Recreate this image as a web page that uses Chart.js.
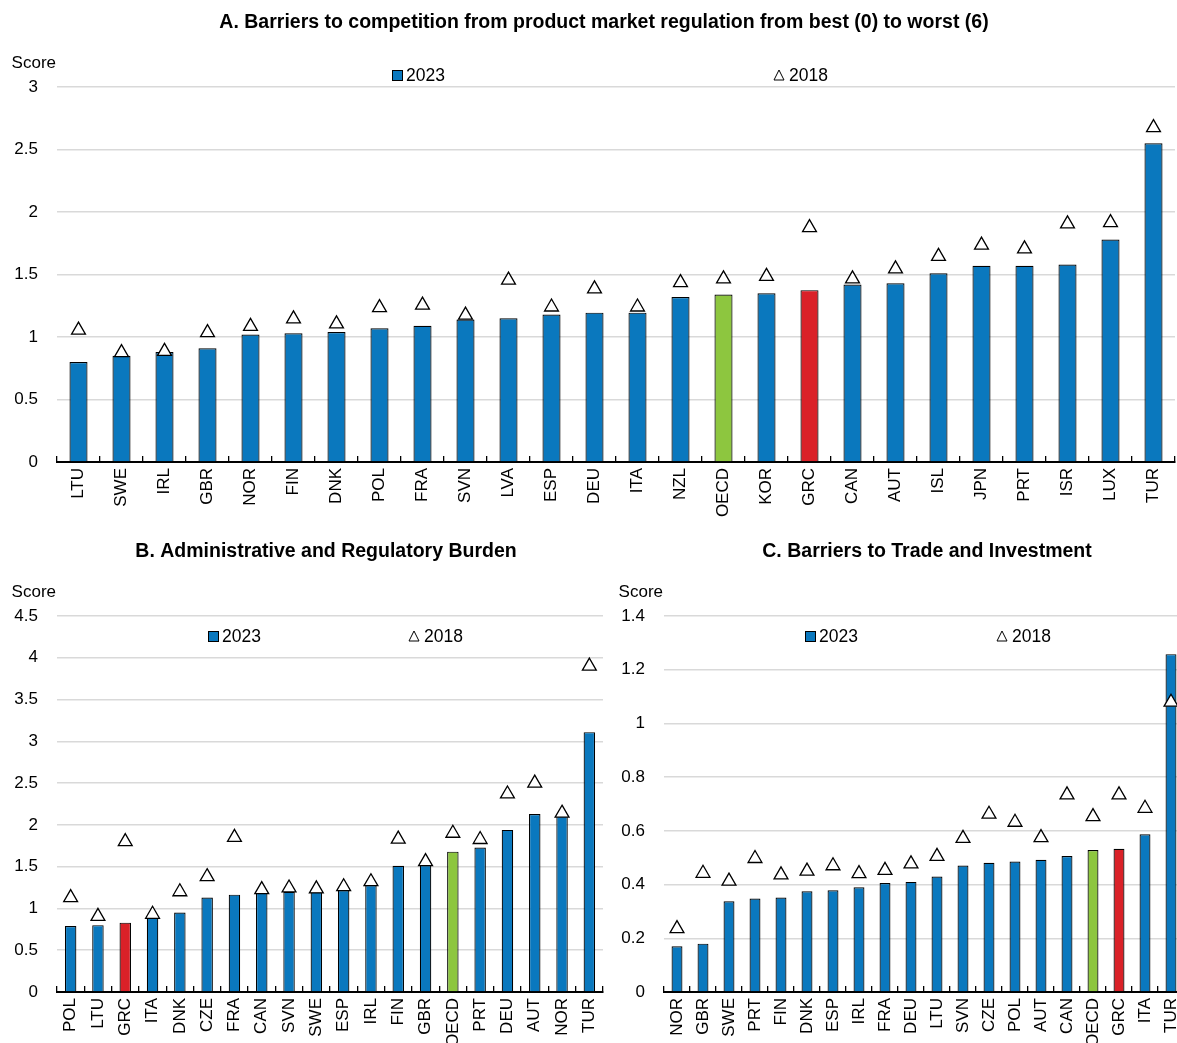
<!DOCTYPE html>
<html>
<head>
<meta charset="utf-8">
<script src="https://cdn.jsdelivr.net/npm/chart.js@4.4.1/dist/chart.umd.min.js"></script>
<style>
  html, body { margin: 0; padding: 0; background: #fff; overflow: hidden; width: 1177px; height: 1043px; }
  canvas { position: absolute; }
  #chartA { left: 0; top: 0; }
  #chartB { left: 0; top: 530px; }
  #chartC { left: 610px; top: 530px; }
</style>
</head>
<body>
<canvas id="chartA" width="1177" height="525"></canvas>
<canvas id="chartB" width="610" height="530"></canvas>
<canvas id="chartC" width="580" height="530"></canvas>
<script>
/* ── Data ───────────────────────────────────────────── */
const catsA = ['LTU','SWE','IRL','GBR','NOR','FIN','DNK','POL','FRA','SVN','LVA','ESP','DEU','ITA','NZL','OECD','KOR','GRC','CAN','AUT','ISL','JPN','PRT','ISR','LUX','TUR'];
const a2023 = [0.80,0.85,0.88,0.91,1.02,1.03,1.04,1.07,1.09,1.14,1.15,1.18,1.195,1.195,1.32,1.34,1.35,1.375,1.42,1.43,1.51,1.57,1.57,1.58,1.78,2.55];
const a2018 = [1.055,0.875,0.885,1.035,1.085,1.145,1.105,1.235,1.255,1.175,1.455,1.24,1.385,1.24,1.435,1.465,1.485,1.875,1.465,1.545,1.645,1.735,1.705,1.905,1.915,2.675];

const catsB = ['POL','LTU','GRC','ITA','DNK','CZE','FRA','CAN','SVN','SWE','ESP','IRL','FIN','GBR','OECD','PRT','DEU','AUT','NOR','TUR'];
const b2023 = [0.79,0.80,0.83,0.89,0.95,1.13,1.165,1.19,1.20,1.20,1.22,1.28,1.51,1.52,1.68,1.73,1.94,2.13,2.11,3.11];
const b2018 = [1.13,0.905,1.80,0.93,1.20,1.38,1.85,1.225,1.245,1.235,1.26,1.32,1.83,1.56,1.90,1.825,2.37,2.50,2.14,3.90];

const catsC = ['NOR','GBR','SWE','PRT','FIN','DNK','ESP','IRL','FRA','DEU','LTU','SVN','CZE','POL','AUT','CAN','OECD','GRC','ITA','TUR'];
const c2023 = [0.17,0.18,0.338,0.348,0.352,0.375,0.379,0.39,0.406,0.41,0.43,0.471,0.481,0.486,0.492,0.506,0.529,0.533,0.587,1.258];
const c2018 = [0.236,0.442,0.413,0.497,0.436,0.45,0.47,0.441,0.453,0.477,0.505,0.572,0.662,0.632,0.575,0.734,0.653,0.734,0.684,1.079];

const titleA = 'A. Barriers to competition from product market regulation from best (0) to worst (6)';
const titleB = 'B. Administrative and Regulatory Burden';
const titleC = 'C. Barriers to Trade and Investment';

/* ── Style ──────────────────────────────────────────── */
const FONT  = "'Liberation Sans', Arial, sans-serif";
const BLUE  = '#0a78be';
const GREEN = '#8dc63f';
const RED   = '#da2128';

// title, "Score" and legend drawn round the plot area
const panelDecor = {
  id: 'panelDecor',
  afterDraw(chart, args, o) {
    const { ctx, chartArea: a } = chart;
    const w = a.right - a.left;
    ctx.save();
    ctx.textBaseline = 'middle';
    ctx.fillStyle = '#000';
    ctx.font = `bold 19.5px ${FONT}`;
    ctx.textAlign = 'center';
    ctx.fillText(o.title, a.left + o.titleX, a.top - 64);

    ctx.font = `17px ${FONT}`;
    ctx.textAlign = 'right';
    ctx.fillText('Score', a.left - 1, a.top - 24);

    const ly = a.top + o.legendY;
    let x = Math.round(a.left + o.legendX[0] * w);
    ctx.fillStyle = BLUE;
    ctx.fillRect(x, ly - 5, 10, 10);
    ctx.strokeStyle = '#000';
    ctx.lineWidth = 1;
    ctx.strokeRect(x + 0.5, ly - 4.5, 10, 10);
    ctx.fillStyle = '#000';
    ctx.textAlign = 'left';
    ctx.font = `17.5px ${FONT}`;
    ctx.fillText('2023', x + 14, ly + 1);

    x = Math.round(a.left + o.legendX[1] * w);
    ctx.beginPath();
    ctx.moveTo(x, ly + 5);
    ctx.lineTo(x + 10, ly + 5);
    ctx.lineTo(x + 5, ly - 5);
    ctx.closePath();
    ctx.fillStyle = '#fff';
    ctx.fill();
    ctx.stroke();
    ctx.fillStyle = '#000';
    ctx.fillText('2018', x + 15, ly + 1);
    ctx.restore();
  }
};

const fmtTick = v => String(Math.round(v * 10) / 10);

function makePanel(id, cats, v2023, v2018, yMax, yStep, lay, deco) {
  return new Chart(document.getElementById(id), {
    type: 'bar',
    data: {
      labels: cats,
      datasets: [
        {
          type: 'line', label: '2018', data: v2018, order: 0, showLine: false,
          pointStyle: 'triangle', pointRadius: 8, pointHoverRadius: 8,
          pointBackgroundColor: '#fff', pointBorderColor: '#000', pointBorderWidth: 1.3,
        },
        {
          type: 'bar', label: '2023', data: v2023, order: 1,
          backgroundColor: cats.map(c => c === 'OECD' ? GREEN : c === 'GRC' ? RED : BLUE),
          borderColor: '#000', borderWidth: 1.2,
          barPercentage: 0.42, categoryPercentage: 1,
        },
      ],
    },
    options: {
      responsive: false,
      animation: false,
      events: [],
      layout: { autoPadding: false, padding: { top: lay.top, right: lay.right, left: 0, bottom: 0 } },
      plugins: {
        legend: { display: false },
        tooltip: { enabled: false },
        title: { display: false },
        panelDecor: deco,
      },
      scales: {
        x: {
          offset: true,
          grid: { display: true, offset: true, drawOnChartArea: false, drawTicks: true, tickLength: -6, color: '#000', lineWidth: 1.3 },
          border: { display: true, color: '#000', width: 2 },
          ticks: { autoSkip: false, maxRotation: 90, minRotation: 90, padding: 12, color: '#000', font: { family: FONT, size: 17 } },
          afterFit: s => { s.height = lay.xH; s.paddingLeft = 0; s.paddingRight = 0; },
        },
        y: {
          min: 0, max: yMax,
          ticks: { stepSize: yStep, padding: 19, color: '#000', font: { family: FONT, size: 17 }, callback: fmtTick },
          grid: { drawTicks: false, lineWidth: 1.5, color: c => c.tick && c.tick.value === 0 ? 'rgba(0,0,0,0)' : '#d9d9d9' },
          border: { display: false },
          afterFit: s => { s.width = lay.yW; },
        },
      },
    },
    plugins: [panelDecor],
  });
}

makePanel('chartA', catsA, a2023, a2018, 3, 0.5,
  { top: 87, right: 2, xH: 63, yW: 57 },
  { title: titleA, titleX: 547, legendY: -12, legendX: [0.30, 0.641] });

makePanel('chartB', catsB, b2023, b2018, 4.5, 0.5,
  { top: 86, right: 7, xH: 68, yW: 57 },
  { title: titleB, titleX: 269, legendY: 20, legendX: [0.277, 0.645] });

makePanel('chartC', catsC, c2023, c2018, 1.4, 0.2,
  { top: 86, right: 6, xH: 68, yW: 54 },
  { title: titleC, titleX: 263, legendY: 20, legendX: [0.271, 0.640] });
</script>
</body>
</html>
